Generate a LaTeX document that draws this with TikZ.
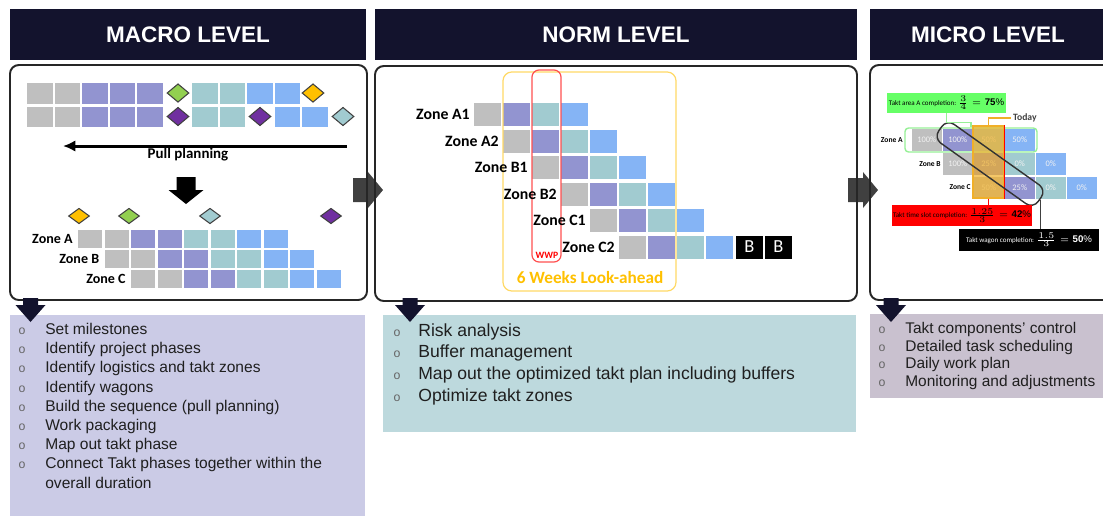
\documentclass[tikz,border=0pt]{standalone}
\usepackage{fontspec}
\usepackage{amsmath}
\setmainfont{Liberation Sans}
\newfontfamily\carl{Carlito}
\usetikzlibrary{arrows.meta, shapes.geometric}
\definecolor{xNavy}{RGB}{19,19,45}
\definecolor{xGray}{RGB}{191,191,191}
\definecolor{xPurp}{RGB}{146,148,208}
\definecolor{xTeal}{RGB}{161,203,208}
\definecolor{xBlue}{RGB}{133,180,245}
\definecolor{xMsGreen}{RGB}{146,208,80}
\definecolor{xMsOrange}{RGB}{255,192,0}
\definecolor{xMsPurple}{RGB}{112,48,160}
\definecolor{xLav}{RGB}{203,203,230}
\definecolor{xAqua}{RGB}{189,217,221}
\definecolor{xMauve}{RGB}{201,193,207}
\definecolor{xArrow}{RGB}{64,64,64}
\definecolor{xLook}{RGB}{255,217,102}
\definecolor{xLookTxt}{RGB}{255,192,0}
\definecolor{xWwp}{RGB}{255,80,80}
\definecolor{xLime}{RGB}{102,255,102}
\definecolor{xLimeLine}{RGB}{150,240,150}
\definecolor{xToday}{RGB}{240,175,40}
% block arrows: colour, x, top, head start, tip, shaft half, head half
\newcommand{\DnArrow}[7]{\fill[#1] ({#2-#6},#3) -- ({#2+#6},#3) -- ({#2+#6},#4) -- ({#2+#7},#4) -- (#2,#5) -- ({#2-#7},#4) -- ({#2-#6},#4) -- cycle;}
\newcommand{\RtArrow}[1]{\fill[xArrow] (#1,178) -- ({#1+15},178) -- ({#1+15},172) -- ({#1+30},190) -- ({#1+15},208) -- ({#1+15},202) -- (#1,202) -- cycle;}
\tikzset{
  lvlhead/.style={fill=xNavy, text=white, font=\fontsize{12.8}{15}\selectfont\bfseries, minimum height=1.02cm, inner sep=0pt},
  panel/.style={draw=black!85, line width=1.1pt, rounded corners=5pt},
  mstone/.style={diamond, draw=black!75, line width=0.6pt, minimum width=0.44cm, minimum height=0.37cm, inner sep=0pt},
  zlab/.style={anchor=east, inner sep=0pt, font=\carl\bfseries\fontsize{8}{9}\selectfont},
  nlab/.style={anchor=east, inner sep=0pt, font=\carl\bfseries\fontsize{9}{10}\selectfont},
  ulab/.style={anchor=east, inner sep=0pt, font=\carl\bfseries\fontsize{4.3}{5}\selectfont},
  bul/.style={anchor=base, inner sep=0pt, text=black!60, font=\fontsize{7}{8}\selectfont},
  item/.style={anchor=base west, inner sep=0pt, text=black!88},
  bcell/.style={fill=black, text=white, minimum width=0.54cm, minimum height=0.46cm, inner sep=0pt, font=\carl\fontsize{10.5}{11}\selectfont},
  pct/.style={fill=#1, minimum width=0.59cm, minimum height=0.44cm, inner sep=0pt, text=white!90!gray, font=\carl\fontsize{4.8}{5}\selectfont},
  tag/.style={minimum height=0.41cm, inner sep=0pt, font=\carl\fontsize{4}{5}\selectfont},
  pull/.style={-{Latex[length=7pt,width=6.5pt]}, line width=1.7pt},
  gline/.style={xLimeLine, line width=0.8pt},
  oline/.style={xToday, line width=0.8pt},
  rline/.style={red, line width=0.7pt},
  kline/.style={black!75, line width=0.6pt},
}
\begin{document}
\begin{tikzpicture}[x=0.02cm, y=-0.02cm]
  \useasboundingbox (0,0) rectangle (1103,515);
  % headers
  \node[lvlhead, minimum width=7.12cm] (hMacro) at (188,34.5) {MACRO LEVEL};
  \node[lvlhead, minimum width=9.64cm] (hNorm) at (616,34.5) {NORM LEVEL};
  \node[lvlhead, minimum width=4.72cm] (hMicro) at (988,34.5) {MICRO LEVEL};

  % task lists
  \fill[xLav] (10,315) rectangle (365,520);
  \foreach \t [count=\i from 0] in {Set milestones, Identify project phases, Identify logistics and takt zones, Identify wagons, Build the sequence (pull planning), Work packaging, Map out takt phase, Connect Takt phases together within the} {
    \node[bul] (mb\i) at (22,{334.5+19.2*\i}) {o};
    \node[item, font=\fontsize{8.85}{10}\selectfont] (mt\i) at (45,{334.5+19.2*\i}) {\t};
  }
  \node[item, font=\fontsize{8.85}{10}\selectfont] (mt8) at (45,488.5) {overall duration};

  \fill[xAqua] (383,315) rectangle (856,432);
  \foreach \t [count=\i from 0] in {Risk analysis, Buffer management, Map out the optimized takt plan including buffers, Optimize takt zones} {
    \node[bul] (nb\i) at (397,{336+21.9*\i}) {o};
    \node[item, font=\fontsize{10}{11}\selectfont] (nt\i) at (418,{336+21.9*\i}) {\t};
  }

  \fill[xMauve] (870,314) rectangle (1110,398);
  \foreach \t [count=\i from 0] in {Takt components’ control, Detailed task scheduling, Daily work plan, Monitoring and adjustments} {
    \node[bul] (ub\i) at (882,{333.3+17.8*\i}) {o};
    \node[item, font=\fontsize{8.8}{10}\selectfont] (ut\i) at (905,{333.3+17.8*\i}) {\t};
  }

  % macro level
  \foreach \x/\c in {27/xGray,54.5/xGray,82/xPurp,109.5/xPurp,137/xPurp,192/xTeal,219.5/xTeal,247/xBlue,274.5/xBlue}
    \fill[\c] (\x,83) rectangle ++(25.5,20.5);
  \foreach \x/\c in {27/xGray,54.5/xGray,82/xPurp,109.5/xPurp,137/xPurp,192/xTeal,219.5/xTeal,274.5/xBlue,302/xBlue}
    \fill[\c] (\x,106.5) rectangle ++(25.5,20.5);
  \node[mstone, fill=xMsGreen]  (ms1) at (178,93) {};
  \node[mstone, fill=xMsOrange] (ms2) at (313,93) {};
  \node[mstone, fill=xMsPurple] (ms3) at (178,116.5) {};
  \node[mstone, fill=xMsPurple] (ms4) at (260,116.5) {};
  \node[mstone, fill=xTeal]     (ms5) at (343,116.5) {};

  \coordinate (ppR) at (347,146);
  \coordinate (ppL) at (63,146);
  \draw[pull] (ppR) -- (ppL);
  \node[font=\carl\bfseries\fontsize{8.5}{9}\selectfont] (pp) at (188,155) {Pull planning};
  \DnArrow{black}{186}{177}{190}{204}{9.5}{17.5}

  \node[mstone, fill=xMsOrange, minimum width=0.42cm, minimum height=0.31cm] (ls1) at (79,216) {};
  \node[mstone, fill=xMsGreen,  minimum width=0.42cm, minimum height=0.31cm] (ls2) at (129,216) {};
  \node[mstone, fill=xTeal,     minimum width=0.42cm, minimum height=0.31cm] (ls3) at (210,216) {};
  \node[mstone, fill=xMsPurple, minimum width=0.42cm, minimum height=0.31cm] (ls4) at (331,216) {};
  \foreach \z [count=\r from 0] in {A,B,C} {
    \foreach \c [count=\k from 0] in {xGray,xGray,xPurp,xPurp,xTeal,xTeal,xBlue,xBlue}
      \fill[\c] ({78+26.5*(\r+\k)},{230+20*\r}) rectangle ++(24,18);
    \node[zlab] (z\z) at ({73+26.5*\r},{239+20*\r}) {Zone \z};
  }

  % norm level
  \foreach \z [count=\r from 0] in {A1,A2,B1,B2,C1,C2}
    \foreach \c [count=\k from 0] in {xGray,xPurp,xTeal,xBlue}
      \fill[\c] ({474+29*(\r+\k)},{103+26.5*\r}) rectangle ++(27,23);
  \node[bcell] (nB1) at (749.5,247) {B};
  \node[bcell] (nB2) at (778.5,247) {B};
  \draw[xLook, line width=0.7pt, rounded corners=5pt] (503,72) rectangle (676,291);
  \draw[xWwp, line width=0.7pt, rounded corners=4pt] (532,70) rectangle (561,262);
  \node[text=red, font=\carl\bfseries\fontsize{5.5}{6}\selectfont] (wwp) at (547,255) {WWP};
  \node[text=xLookTxt, font=\carl\bfseries\fontsize{9.8}{11}\selectfont] (look) at (590,278) {6 Weeks Look-ahead};
  \foreach \z [count=\r from 0] in {A1,A2,B1,B2,C1,C2}
    \node[nlab] (n\z) at ({470+29*\r},{114.5+26.5*\r}) {Zone \z};

  % micro level
  \foreach \c/\p [count=\k from 0] in {xGray/100\%,xPurp/100\%,xTeal/50\%,xBlue/50\%}
    \node[pct=\c] (uA\k) at ({926.75+31*\k},140) {\p};
  \foreach \c/\p [count=\k from 1] in {xGray/100\%,xPurp/25\%,xTeal/0\%,xBlue/0\%}
    \node[pct=\c] (uB\k) at ({926.75+31*\k},164) {\p};
  \foreach \c/\p [count=\k from 2] in {xGray/50\%,xPurp/25\%,xTeal/0\%,xBlue/0\%}
    \node[pct=\c] (uC\k) at ({926.75+31*\k},187.5) {\p};
  \node[ulab] (uZA) at (903,140) {Zone A};
  \node[ulab] (uZB) at (941,164) {Zone B};
  \node[ulab] (uZC) at (971,187.5) {Zone C};

  \node[draw=xLimeLine, line width=0.8pt, rounded corners=2pt, minimum width=2.64cm, minimum height=0.48cm] (zAo) at (971,140) {};
  \node[fill=xToday, fill opacity=0.7, draw=xToday, line width=0.8pt, minimum width=0.62cm, minimum height=1.44cm] (today) at (988.5,162) {};
  \draw[rline] (today.north east) -- (today.south east);
  \node[draw=black!80, line width=0.8pt, rounded corners=5pt, rotate=-35.4, minimum width=2.44cm, minimum height=0.46cm] (wag) at (990,164) {};

  \node[tag, fill=xLime, minimum width=2.38cm, minimum height=0.4cm] (gA) at (946.5,103) {Takt area A completion: {\fontsize{5.5}{6}\selectfont$\frac{3}{4}=\mathbf{75\%}$}};
  \node[tag, fill=red, minimum width=2.8cm] (rbox) at (962,215.5) {Takt time slot completion: {\fontsize{5.5}{6}\selectfont$\frac{1.25}{3}=\mathbf{42\%}$}};
  \node[tag, fill=black, text=white, minimum width=2.8cm, minimum height=0.44cm] (kbox) at (1029,240) {Takt wagon completion: {\fontsize{5.5}{6}\selectfont$\frac{1.5}{3}=\mathbf{50\%}$}};
  \node[anchor=west, inner sep=1pt, text=black!75, font=\carl\bfseries\fontsize{5.5}{6}\selectfont] (tdy) at (1011,118) {Today};

  \draw[gline] (gA.south) -- ++(0,9) -| (zAo.north);
  \draw[oline] (today.north) |- (tdy.west);
  \draw[rline] (today.south) -- (rbox.north -| today.south);
  \draw[kline] (wag.east) -- (kbox.north -| wag.east);

  % level arrows and frames
  \RtArrow{353}
  \RtArrow{848}
  \draw[panel] (10,65) rectangle (367,300);
  \draw[panel] (375,66) rectangle (857,301);
  \draw[panel] (870,65) rectangle (1115,300);
  \DnArrow{xNavy}{30.5}{298}{305}{322}{7.5}{15}
  \DnArrow{xNavy}{410}{298}{305}{322}{7.5}{15}
  \DnArrow{xNavy}{891}{298}{305}{322}{7.5}{15}
\end{tikzpicture}
\end{document}
